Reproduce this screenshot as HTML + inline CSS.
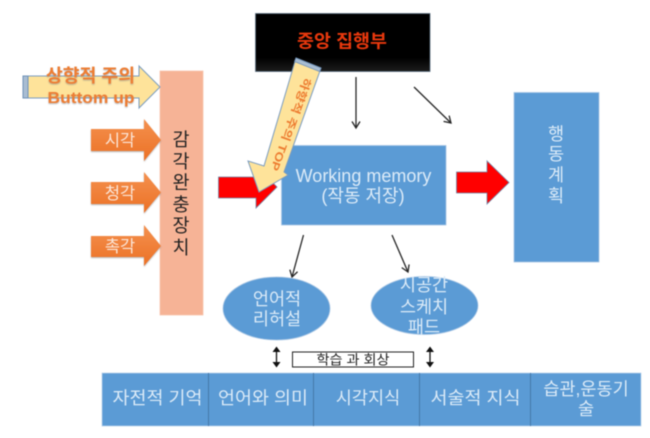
<!DOCTYPE html>
<html lang="ko">
<head>
<meta charset="utf-8">
<style>
html,body{margin:0;padding:0;background:#fff;width:650px;height:438px;overflow:hidden}
svg{display:block;filter:blur(0.5px)}
text{font-family:"Liberation Sans","Noto Sans CJK KR","NanumGothic",sans-serif}
</style>
</head>
<body>
<svg width="650" height="438" viewBox="0 0 650 438" xmlns="http://www.w3.org/2000/svg">
<defs>
<linearGradient id="blk" x1="0" y1="0" x2="0" y2="1"><stop offset="0" stop-color="#000"/><stop offset="0.75" stop-color="#000"/><stop offset="1" stop-color="#1c1c1c"/></linearGradient>
<linearGradient id="or" x1="0" y1="0" x2="0" y2="1"><stop offset="0" stop-color="#f4914f"/><stop offset="1" stop-color="#ec7125"/></linearGradient>
<marker id="ah" markerWidth="10" markerHeight="10" refX="8" refY="5" orient="auto" markerUnits="userSpaceOnUse"><path d="M1.5 1 L8 5 L1.5 9" fill="none" stroke="#262626" stroke-width="1.3"/></marker>
<filter id="sh" x="-20%" y="-20%" width="140%" height="140%"><feDropShadow dx="0" dy="1" stdDeviation="0.8" flood-color="#7f7f7f" flood-opacity="0.6"/></filter>
</defs>

<!-- sensory buffer -->
<rect x="160" y="71" width="43" height="244" fill="#f6b396" stroke="#f8c5ad" stroke-width="0.8"/>
<g font-size="18.500" fill="#222" text-anchor="middle">
<text x="181" y="146">감</text>
<text x="181" y="168">각</text>
<text x="181" y="189">완</text>
<text x="181" y="211">충</text>
<text x="181" y="232">장</text>
<text x="181" y="254">치</text>
</g>

<!-- yellow bottom-up arrow -->
<polygon points="23,76 139,76 139,66 160,87 139,108 139,98 23,98" fill="#fee39a" stroke="#7a9cc0" stroke-width="1"/>
<rect x="23" y="76" width="5" height="22" fill="#a9bdd2" stroke="#6f92b8" stroke-width="1"/>
<g font-size="18" font-weight="bold" fill="#ed7d31" text-anchor="middle" filter="url(#sh)">
<text x="90.500" y="82" textLength="89" lengthAdjust="spacingAndGlyphs">상향적 주의</text>
<text x="91" y="103" font-size="16" textLength="87" lengthAdjust="spacingAndGlyphs">Buttom up</text>
</g>

<!-- orange arrows -->
<g fill="url(#or)" filter="url(#sh)">
<polygon points="91,129 144,129 144,119 161,140 144,161 144,151 91,151"/>
<polygon points="91,182 144,182 144,172 161,192.500 144,213 144,204 91,204"/>
<polygon points="91,236 144,236 144,225 161,246 144,266 144,257 91,257"/>
</g>
<g font-size="16.500" fill="#fbe6d8" text-anchor="middle">
<text x="120" y="146">시각</text>
<text x="120" y="199">청각</text>
<text x="120" y="252">촉각</text>
</g>

<!-- central executive -->
<rect x="255.500" y="13.500" width="174.500" height="58" fill="url(#blk)" stroke="#5b7083" stroke-width="0.8"/>
<text x="342" y="47.500" font-size="18" font-weight="bold" fill="#e8380d" text-anchor="middle" textLength="90" lengthAdjust="spacingAndGlyphs">중앙 집행부</text>

<!-- working memory -->
<rect x="281.500" y="145.500" width="164.500" height="79.500" fill="#5b9bd5" stroke="#a9c6e4" stroke-width="0.8"/>
<g font-size="18" fill="#dcebf8" text-anchor="middle">
<text x="363.500" y="182">Working memory</text>
<text x="363" y="202">(작동 저장)</text>
</g>

<!-- red arrows -->
<polygon points="218.500,177 256,177 256,166 277,187 256,208 256,198 218.500,198" fill="#ff0000" stroke="#6e86a8" stroke-width="0.8"/>
<polygon points="456.500,172 487,172 487,161 509,182.500 487,204 487,193 456.500,193" fill="#ff0000" stroke="#6e86a8" stroke-width="0.8"/>

<!-- diagonal yellow arrow -->
<polygon points="296,58 321,68 284,172 288,175 259,192 248,161 264,166" fill="#fee39a" stroke="#7a9cc0" stroke-width="1"/>
<polygon points="296,58 321,68 319.500,71.500 294.500,61.500" fill="#a9bdd2" stroke="#6f92b8" stroke-width="0.8"/>
<text transform="translate(304,77) rotate(110)" font-size="11" font-weight="bold" fill="#ed7d31" textLength="98" lengthAdjust="spacingAndGlyphs">하향적 주의 TOP</text>

<!-- action plan -->
<rect x="514" y="92.500" width="85" height="169.500" fill="#5b9bd5" stroke="#a9c6e4" stroke-width="0.8"/>
<g font-size="17.500" fill="#dcebf8" text-anchor="middle">
<text x="556" y="140">행</text>
<text x="556" y="160">동</text>
<text x="556" y="181">계</text>
<text x="556" y="202">획</text>
</g>

<!-- connectors -->
<g stroke="#262626" stroke-width="1.300" fill="none" marker-end="url(#ah)">
<line x1="356" y1="77" x2="356" y2="128"/>
<line x1="414" y1="87" x2="451" y2="123"/>
<line x1="303.500" y1="235" x2="292" y2="277"/>
<line x1="392" y1="235" x2="408" y2="272"/>
</g>

<!-- ellipses -->
<ellipse cx="276.500" cy="308.500" rx="53.500" ry="31.500" fill="#5b9bd5" stroke="#a9c6e4" stroke-width="0.8"/>
<ellipse cx="424.500" cy="305.500" rx="53.500" ry="29" fill="#5b9bd5" stroke="#a9c6e4" stroke-width="0.8"/>
<g font-size="17.500" fill="#dcebf8" text-anchor="middle">
<text x="277" y="305">언어적</text>
<text x="277" y="325">리허설</text>
<text x="424" y="291">시공간</text>
<text x="424" y="313">스케치</text>
<text x="424" y="333">패드</text>
</g>

<!-- double arrows and label -->
<g stroke="#111" stroke-width="1.300" fill="#111">
<line x1="276.500" y1="349" x2="276.500" y2="365"/>
<polygon points="276.500,346.500 272.500,352 280.500,352" stroke="none"/>
<polygon points="276.500,367.500 272.500,362 280.500,362" stroke="none"/>
<line x1="430" y1="349" x2="430" y2="365"/>
<polygon points="430,346.500 426,352 434,352" stroke="none"/>
<polygon points="430,367.500 426,362 434,362" stroke="none"/>
</g>
<rect x="292.500" y="352" width="121" height="15" fill="#fff" stroke="#222" stroke-width="1"/>
<text x="353" y="364.500" font-size="13.500" fill="#222" text-anchor="middle" textLength="73" lengthAdjust="spacingAndGlyphs">학습 과 회상</text>

<!-- bottom table -->
<rect x="102" y="373" width="539" height="53" fill="#5b9bd5" stroke="#bcd2ea" stroke-width="0.8"/>
<g stroke="#4478a8" stroke-width="1">
<line x1="208.500" y1="373" x2="208.500" y2="426"/>
<line x1="313.500" y1="373" x2="313.500" y2="426"/>
<line x1="419.500" y1="373" x2="419.500" y2="426"/>
<line x1="530.500" y1="373" x2="530.500" y2="426"/>
</g>
<g font-size="17.500" fill="#dcebf8" text-anchor="middle">
<text x="157.500" y="404" textLength="90" lengthAdjust="spacingAndGlyphs">자전적 기억</text>
<text x="263" y="404" textLength="90" lengthAdjust="spacingAndGlyphs">언어와 의미</text>
<text x="368" y="404">시각지식</text>
<text x="475.500" y="404" textLength="90" lengthAdjust="spacingAndGlyphs">서술적 지식</text>
<text x="586" y="395">습관,운동기</text>
<text x="586" y="415">술</text>
</g>
</svg>
</body>
</html>
